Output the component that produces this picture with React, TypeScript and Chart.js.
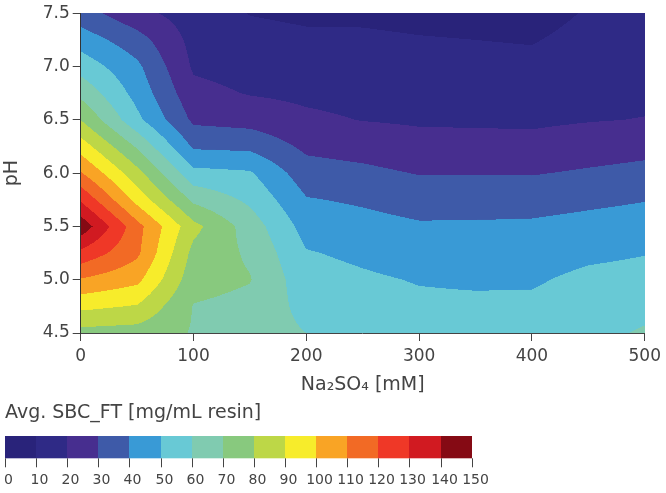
import React, { useEffect, useRef } from 'react';
import { Chart, registerables } from 'chart.js';

Chart.register(...registerables);

// ---- Data ----
const naSO4 = [0, 50, 100, 150, 200, 250, 300, 350, 400, 450, 500]; // mM
const pHLevels = [7.5, 7.25, 7.0, 6.75, 6.5, 6.25, 6.0, 5.75, 5.5, 5.25, 5.0, 4.75, 4.5];

// Avg. SBC_FT [mg/mL resin] at each Na2SO4 value, one list per pH
const sbc_pH750 = [34.4, 22.9, 15.2, 9.7, 8.4, 8.5, 7.7, 7.2, 6.4, 10.8, 11.5];
const sbc_pH725 = [45.4, 34.1, 16.9, 12.9, 11.6, 11.3, 10.5, 10.0, 9.4, 13.0, 13.7];
const sbc_pH700 = [56.0, 42.1, 18.6, 16.1, 14.7, 14.1, 13.3, 12.9, 12.4, 15.2, 15.8];
const sbc_pH675 = [67.2, 46.4, 23.0, 19.4, 17.9, 16.9, 16.0, 15.7, 15.4, 17.4, 18.0];
const sbc_pH650 = [79.8, 52.5, 28.0, 26.2, 21.9, 19.7, 18.8, 18.6, 18.4, 19.5, 20.3];
const sbc_pH625 = [95.3, 68.7, 38.5, 37.6, 27.9, 25.9, 23.4, 23.2, 22.9, 24.9, 26.7];
const sbc_pH600 = [110.9, 83.4, 53.0, 51.2, 34.3, 32.4, 29.5, 29.5, 29.4, 31.3, 33.1];
const sbc_pH575 = [128.7, 96.6, 67.8, 58.0, 40.7, 38.6, 35.7, 35.9, 36.2, 37.9, 39.6];
const sbc_pH550 = [147.0, 113.6, 83.0, 65.4, 46.0, 43.5, 41.2, 41.3, 41.6, 43.2, 44.6];
const sbc_pH525 = [127.2, 112.0, 77.0, 68.5, 50.7, 48.0, 45.3, 45.0, 45.2, 47.9, 49.6];
const sbc_pH500 = [109.2, 102.6, 74.0, 70.5, 54.0, 51.5, 49.4, 48.6, 48.8, 52.5, 53.6];
const sbc_pH475 = [92.5, 89.2, 69.5, 67.0, 57.0, 53.5, 52.0, 52.0, 52.0, 55.0, 57.5];
const sbc_pH450 = [76.5, 75.5, 69.3, 64.6, 60.0, 56.0, 54.5, 54.5, 55.0, 57.5, 61.0];

const contourLevels = [0, 10, 20, 30, 40, 50, 60, 70, 80, 90, 100, 110, 120, 130, 140, 150];
const bandColors = [
  '#29237a', '#2f2a86', '#472e8f', '#3e5aa8', '#399ad6',
  '#68c9d5', '#80cbb0', '#88c97e', '#bdd747', '#f7ec2b',
  '#f9a425', '#f26a25', '#ef3827', '#d11a21', '#850a14',
];

const xTitle = 'Na\u2082SO\u2084 [mM]';
const yTitle = 'pH';
const colorbarTitle = 'Avg. SBC_FT [mg/mL resin]';

const sbcRows = [
  sbc_pH750, sbc_pH725, sbc_pH700, sbc_pH675, sbc_pH650, sbc_pH625, sbc_pH600,
  sbc_pH575, sbc_pH550, sbc_pH525, sbc_pH500, sbc_pH475, sbc_pH450,
];

const FONT = "'DejaVu Sans', Verdana, sans-serif";
const TEXT = '#444';

function clamp(v: number, a: number, b: number) {
  return Math.max(a, Math.min(b, v));
}

function sbcAt(x: number, y: number): number {
  const nx = naSO4.length;
  const ny = pHLevels.length;
  let i = 0;
  while (i < nx - 2 && x > naSO4[i + 1]) i++;
  let j = 0;
  while (j < ny - 2 && y < pHLevels[j + 1]) j++;
  const tx = clamp((x - naSO4[i]) / (naSO4[i + 1] - naSO4[i]), 0, 1);
  const ty = clamp((pHLevels[j] - y) / (pHLevels[j] - pHLevels[j + 1]), 0, 1);
  const z00 = sbcRows[j][i];
  const z10 = sbcRows[j][i + 1];
  const z01 = sbcRows[j + 1][i];
  const z11 = sbcRows[j + 1][i + 1];
  return (1 - ty) * ((1 - tx) * z00 + tx * z10) + ty * ((1 - tx) * z01 + tx * z11);
}

function hexToRgb(h: string): number[] {
  const v = parseInt(h.slice(1), 16);
  return [(v >> 16) & 255, (v >> 8) & 255, v & 255];
}
const bandRgb = bandColors.map(hexToRgb);

function bandIndex(z: number): number {
  const n = contourLevels.length - 1;
  for (let k = 0; k < n; k++) {
    if (z < contourLevels[k + 1]) return k;
  }
  return n - 1;
}

const contourPlugin = {
  id: 'contourFill',
  beforeDatasetsDraw(chart: any) {
    const { ctx, chartArea, scales } = chart;
    const xs = scales.x;
    const ys = scales.y;
    const ss = 2;
    const w = Math.round((chartArea.right - chartArea.left) * ss);
    const h = Math.round((chartArea.bottom - chartArea.top) * ss);
    const off = document.createElement('canvas');
    off.width = w;
    off.height = h;
    const octx = off.getContext('2d');
    if (!octx) return;
    const img = octx.createImageData(w, h);
    const xv: number[] = [];
    for (let i = 0; i < w; i++) xv.push(xs.getValueForPixel(chartArea.left + (i + 0.5) / ss));
    for (let j = 0; j < h; j++) {
      const yv = ys.getValueForPixel(chartArea.top + (j + 0.5) / ss);
      for (let i = 0; i < w; i++) {
        const z = sbcAt(xv[i], yv);
        const c = bandRgb[bandIndex(z)];
        const p = (j * w + i) * 4;
        img.data[p] = c[0];
        img.data[p + 1] = c[1];
        img.data[p + 2] = c[2];
        img.data[p + 3] = 255;
      }
    }
    octx.putImageData(img, 0, 0);
    ctx.save();
    ctx.imageSmoothingEnabled = true;
    ctx.drawImage(off, chartArea.left, chartArea.top, w / ss, h / ss);
    ctx.restore();
  },
};

const colorbarPlugin = {
  id: 'colorbar',
  afterDraw(chart: any) {
    const ctx = chart.ctx;
    const x0 = 5;
    const x1 = 471.7;
    const y0 = 436;
    const y1 = 458.3;
    const n = bandColors.length;
    const bw = (x1 - x0) / n;
    ctx.save();
    // title
    ctx.fillStyle = TEXT;
    ctx.font = `19px ${FONT}`;
    ctx.textAlign = 'left';
    ctx.textBaseline = 'middle';
    ctx.fillText(colorbarTitle, 5, 413);
    // bands
    for (let k = 0; k < n; k++) {
      const a = Math.round(x0 + k * bw);
      const b = Math.round(x0 + (k + 1) * bw);
      ctx.fillStyle = bandColors[k];
      ctx.fillRect(a, y0, b - a, y1 - y0);
    }
    // ticks + labels
    ctx.strokeStyle = TEXT;
    ctx.lineWidth = 1;
    ctx.fillStyle = TEXT;
    ctx.font = `14px ${FONT}`;
    ctx.textAlign = 'center';
    ctx.textBaseline = 'middle';
    contourLevels.forEach((lv, k) => {
      const x = Math.round(x0 + k * bw) + 0.5;
      ctx.beginPath();
      ctx.moveTo(x, y1);
      ctx.lineTo(x, y1 + 9);
      ctx.stroke();
      ctx.fillText(String(lv), x + 3, 480);
    });
    ctx.restore();
  },
};

export default function App() {
  const canvasRef = useRef<HTMLCanvasElement | null>(null);

  useEffect(() => {
    const canvas = canvasRef.current;
    if (!canvas) return;
    const points: { x: number; y: number }[] = [];
    pHLevels.forEach((p) => naSO4.forEach((n) => points.push({ x: n, y: p })));

    const chart = new Chart(canvas, {
      type: 'scatter',
      data: {
        datasets: [
          {
            label: colorbarTitle,
            data: points,
            pointRadius: 0,
            pointHoverRadius: 0,
            showLine: false,
          },
        ],
      },
      options: {
        animation: false,
        responsive: false,
        devicePixelRatio: 1,
        events: [],
        layout: { padding: { top: 12.7, right: 19.3, bottom: 97, left: 0 } },
        plugins: {
          legend: { display: false },
          tooltip: { enabled: false },
        },
        scales: {
          x: {
            type: 'linear',
            min: 0,
            max: 500,
            afterFit: (s: any) => {
              s.height = 63;
            },
            ticks: {
              stepSize: 100,
              color: TEXT,
              padding: 5,
              font: { family: FONT, size: 17 },
              maxRotation: 0,
            },
            grid: { drawOnChartArea: false, drawTicks: true, tickLength: 8, color: TEXT },
            border: { display: true, color: TEXT, width: 1 },
            title: {
              display: true,
              text: xTitle,
              color: TEXT,
              font: { family: FONT, size: 19 },
              padding: { top: 0, bottom: 0 },
            },
          },
          y: {
            type: 'linear',
            min: 4.5,
            max: 7.5,
            afterFit: (s: any) => {
              s.width = 80.7;
            },
            ticks: {
              stepSize: 0.5,
              color: TEXT,
              padding: 3,
              font: { family: FONT, size: 17 },
              callback: (v: any) => Number(v).toFixed(1),
            },
            grid: { drawOnChartArea: false, drawTicks: true, tickLength: 8, color: TEXT },
            border: { display: true, color: '#333', width: 1 },
            title: {
              display: true,
              text: yTitle,
              color: TEXT,
              font: { family: FONT, size: 19 },
              padding: { top: 1, bottom: 0 },
            },
          },
        },
      },
      plugins: [contourPlugin, colorbarPlugin],
    } as any);

    return () => chart.destroy();
  }, []);

  return (
    <div style={{ position: 'absolute', left: 0, top: 0, width: 666, height: 493, background: '#fff' }}>
      <canvas ref={canvasRef} width={666} height={493} style={{ width: 666, height: 493, display: 'block' }} />
    </div>
  );
}
